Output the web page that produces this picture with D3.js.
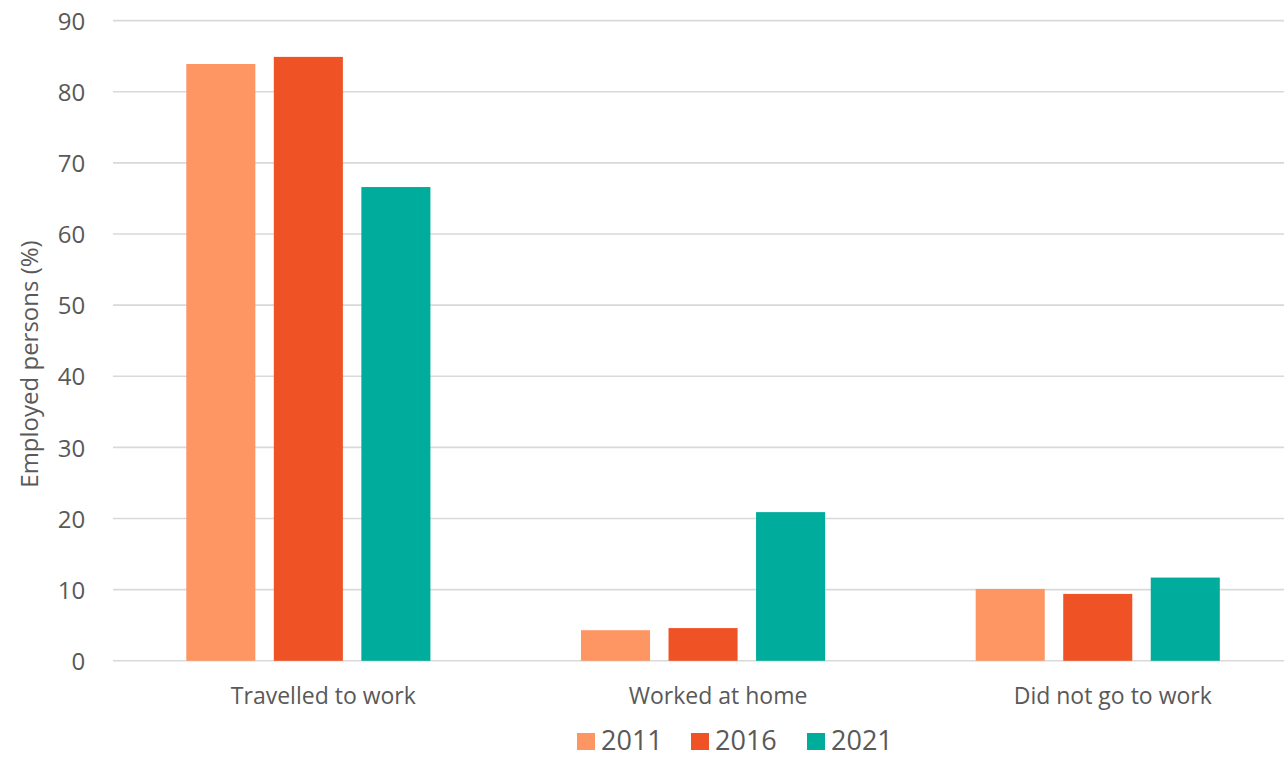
<!DOCTYPE html>
<html>
<head>
<meta charset="utf-8">
<script src="https://cdn.jsdelivr.net/npm/d3@7"></script>
<style>
  html, body { margin: 0; padding: 0; background: #fff; }
  svg { display: block; font-family: "Open Sans", "Noto Sans", sans-serif; }
</style>
</head>
<body>
<svg id="chart" width="1284" height="758"></svg>
<script>
// Employment location by census year
const categories = ["Travelled to work", "Worked at home", "Did not go to work"];
const years = ["2011", "2016", "2021"];
const values2011 = [83.9, 4.3, 10.1];
const values2016 = [84.9, 4.6, 9.4];
const values2021 = [66.6, 20.9, 11.7];
const yTicks = [0, 10, 20, 30, 40, 50, 60, 70, 80, 90];
const colors = ["#FE9664", "#EF5325", "#00AC9B"];

const seriesValues = [values2011, values2016, values2021];
const rows = categories.map((c, i) => ({
  category: c,
  bars: years.map((y, j) => ({ year: y, value: seriesValues[j][i], color: colors[j] }))
}));

const svg = d3.select("#chart");
const width = 1284, height = 758;
const plot = { left: 111.3, right: 1294.8, top: 20.6, bottom: 660.8 };
const textColor = "#595959";

const x = d3.scaleBand()
  .domain(categories)
  .range([plot.left, plot.right])
  .paddingInner(0.3815)
  .paddingOuter(0.19);

const xInner = d3.scaleBand()
  .domain(years)
  .range([0, x.bandwidth()])
  .paddingInner(0.211)
  .paddingOuter(0);

const y = d3.scaleLinear()
  .domain([0, 90])
  .range([plot.bottom, plot.top]);

// gridlines
svg.append("g")
  .selectAll("line")
  .data(yTicks)
  .join("line")
  .attr("x1", 113)
  .attr("x2", width)
  .attr("y1", d => y(d))
  .attr("y2", d => y(d))
  .attr("stroke", "#d9d9d9")
  .attr("stroke-width", 1.6);

// y tick labels
const yAxis = d3.axisLeft(y).tickValues(yTicks).tickSize(0).tickPadding(26);
const gy = svg.append("g")
  .attr("transform", `translate(${plot.left},0)`)
  .call(yAxis);
gy.select(".domain").remove();
gy.selectAll("text")
  .attr("fill", textColor)
  .attr("dy", "0.36em")
  .style("font-size", "24px")
  .style("font-family", "'Open Sans', sans-serif");

// bars
const groups = svg.append("g")
  .selectAll("g")
  .data(rows)
  .join("g")
  .attr("transform", d => `translate(${x(d.category)},0)`);

groups.selectAll("rect")
  .data(d => d.bars)
  .join("rect")
  .attr("x", d => xInner(d.year))
  .attr("width", xInner.bandwidth())
  .attr("y", d => y(d.value))
  .attr("height", d => y(0) - y(d.value))
  .attr("fill", d => d.color);

// category labels
const xAxis = d3.axisBottom(x).tickSize(0).tickPadding(0);
const gx = svg.append("g")
  .attr("transform", `translate(0,${y(0)})`)
  .call(xAxis);
gx.select(".domain").remove();
gx.selectAll("text")
  .attr("fill", textColor)
  .attr("dx", 15)
  .attr("y", 43)
  .attr("dy", 0)
  .style("font-size", "23px")
  .style("font-family", "'Open Sans', sans-serif");

// y axis title
svg.append("text")
  .attr("transform", "translate(38,364) rotate(-90)")
  .attr("text-anchor", "middle")
  .attr("fill", textColor)
  .style("font-size", "24px")
  .text("Employed persons (%)");

// legend
const legendX = [577, 691, 807];
const legend = svg.append("g")
  .selectAll("g")
  .data(years)
  .join("g")
  .attr("transform", (d, i) => `translate(${legendX[i]},733)`);
legend.append("rect")
  .attr("width", 18)
  .attr("height", 17)
  .attr("fill", (d, i) => colors[i]);
legend.append("text")
  .attr("x", 24)
  .attr("y", 16.5)
  .attr("fill", textColor)
  .style("font-size", "27px")
  .text(d => d);
</script>
</body>
</html>
